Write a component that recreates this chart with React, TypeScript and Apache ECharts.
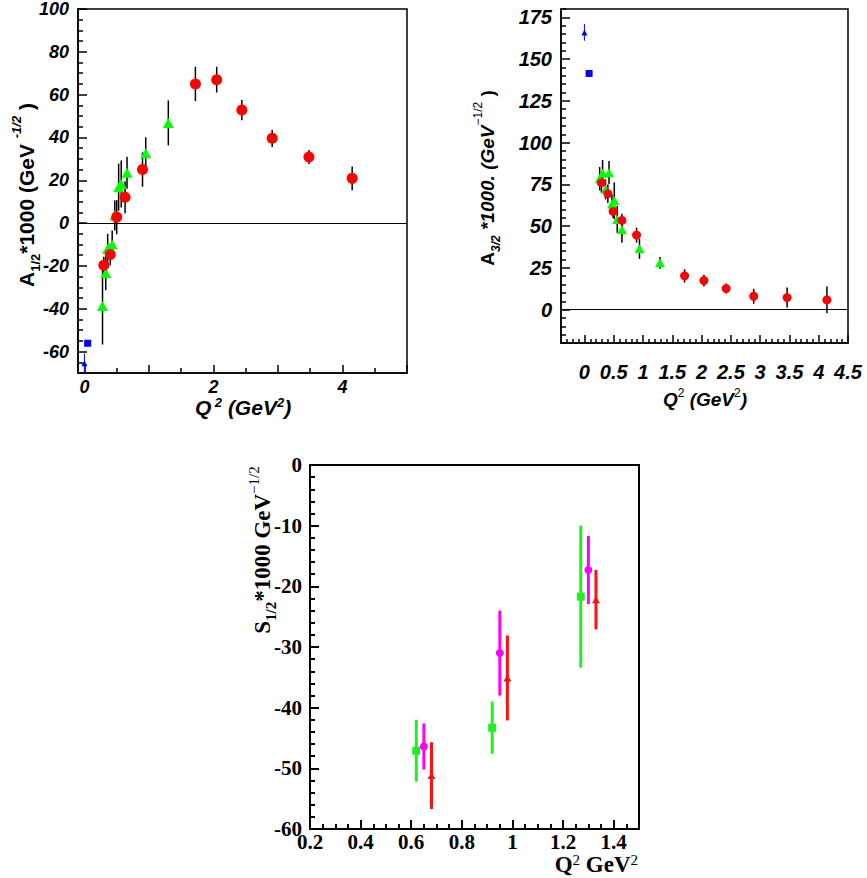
import React, { useEffect, useRef } from 'react';
import * as echarts from 'echarts';

// ---- A_1/2 panel: [Q2, value, error] ----
const a12Red: number[][] = [
  [0.30, -19.7, 4], [0.40, -14.7, 5], [0.50, 2.8, 8], [0.63, 12.1, 7.5], [0.90, 25, 8],
  [1.72, 65, 8], [2.05, 67, 6], [2.44, 52.8, 4.7], [2.91, 39.6, 4], [3.48, 30.9, 3.3], [4.15, 20.9, 5.5],
];
const a12Green: number[][] = [
  [0.28, -38.7, 18], [0.33, -23.3, 8], [0.36, -12, 7], [0.43, -10, 6.5], [0.47, 3.6, 7],
  [0.53, 16.8, 11], [0.57, 18.3, 11], [0.66, 23.5, 7.5], [0.95, 32.6, 7.5], [1.30, 46.8, 10.5],
];
const a12BlueTri: number[][] = [[0, -65.4, 4.5]];
const a12BlueSq: number[][] = [[0.05, -56.1]];

// ---- A_3/2 panel ----
const a32Red: number[][] = [
  [0.29, 76, 6], [0.40, 69.4, 5.5], [0.49, 58.8, 4], [0.64, 53.4, 4], [0.89, 44.6, 4.5],
  [1.71, 20.2, 4], [2.04, 17.4, 3.5], [2.42, 12.6, 3], [2.89, 8, 4.5], [3.46, 7.2, 6], [4.14, 5.8, 8],
];
const a32Green: number[][] = [
  [0.26, 78.4, 7], [0.31, 81.6, 8], [0.36, 72, 6], [0.42, 82, 7], [0.47, 63.2, 6],
  [0.51, 65.2, 11], [0.56, 54, 8], [0.64, 48, 8], [0.94, 36.4, 6], [1.29, 28, 3.5],
];
const a32BlueTri: number[][] = [[0, 166, 5]];
const a32BlueSq: number[][] = [[0.08, 141.4]];

// ---- S_1/2 panel ----
const s12Green: number[][] = [[0.62, -47.1, 5.1], [0.92, -43.3, 4.3], [1.27, -21.7, 11.7]];
const s12Magenta: number[][] = [[0.65, -46.4, 3.8], [0.95, -31, 7], [1.30, -17.3, 5.6]];
const s12Red: number[][] = [[0.68, -51.2, 5.5], [0.98, -35.1, 7], [1.33, -22.2, 4.9]];

// tick label positions
const a12XLabels = [0, 2, 4];
const a12YLabels = [-60, -40, -20, 0, 20, 40, 60, 80, 100];
const a32XLabels = [0, 0.5, 1, 1.5, 2, 2.5, 3, 3.5, 4, 4.5];
const a32YLabels = [0, 25, 50, 75, 100, 125, 150, 175];
const s12XLabels = [0.2, 0.4, 0.6, 0.8, 1, 1.2, 1.4];
const s12YLabels = [-60, -50, -40, -30, -20, -10, 0];

const steps = (from: number, to: number, step: number, skip: number[] = []) => {
  const out: number[] = [];
  const n = Math.round((to - from) / step);
  for (let i = 0; i <= n; i++) {
    const v = Math.round((from + i * step) * 1000) / 1000;
    if (!skip.some((s) => Math.abs(s - v) < 1e-6)) out.push(v);
  }
  return out;
};

const sansBI = { fontFamily: 'Liberation Sans', fontWeight: 'bold', fontStyle: 'italic', color: '#000' } as any;
const serifB = { fontFamily: 'Liberation Serif', fontWeight: 'bold', color: '#000' } as any;

function axisPair(
  dim: 'x' | 'y', gridIndex: number, min: number, max: number,
  major: number[], minor: number[], labels: number[], labelStyle: any,
  width: number, majorLen: number, minorLen: number, margin: number,
) {
  const position = dim === 'x' ? 'bottom' : 'left';
  const lineStyle = { color: '#000', width };
  return [
    {
      type: 'value', gridIndex, min, max, position,
      axisLine: { show: true, onZero: false, lineStyle },
      axisTick: { show: true, inside: true, length: majorLen, customValues: major, lineStyle },
      axisLabel: { show: true, customValues: labels, margin, ...labelStyle },
      splitLine: { show: false },
    },
    {
      type: 'value', gridIndex, min, max, position,
      axisLine: { show: false, onZero: false },
      axisTick: { show: true, inside: true, length: minorLen, customValues: minor, lineStyle },
      axisLabel: { show: false },
      splitLine: { show: false },
    },
  ];
}

function errorBars(data: number[][], axis: number, color: string, width: number) {
  return {
    type: 'custom',
    xAxisIndex: axis, yAxisIndex: axis,
    data: data.map((d) => [d[0], d[1] - d[2], d[1] + d[2]]),
    encode: { x: 0, y: [1, 2] },
    silent: true,
    z: 2,
    renderItem: (_p: any, api: any) => {
      const lo = api.coord([api.value(0), api.value(1)]);
      const hi = api.coord([api.value(0), api.value(2)]);
      return {
        type: 'line',
        shape: { x1: lo[0], y1: lo[1], x2: hi[0], y2: hi[1] },
        style: { stroke: color, lineWidth: width },
      };
    },
  };
}

function markers(data: number[][], axis: number, symbol: string, size: any, color: string) {
  return {
    type: 'scatter',
    xAxisIndex: axis, yAxisIndex: axis,
    data: data.map((d) => [d[0], d[1]]),
    symbol, symbolSize: size,
    itemStyle: { color, opacity: 1 },
    z: 3,
    silent: true,
  };
}

const zeroLine = {
  markLine: {
    silent: true, symbol: 'none', label: { show: false },
    lineStyle: { color: '#000', width: 1, type: 'solid' },
    data: [{ yAxis: 0 }],
  },
};

export default function App() {
  const ref = useRef<HTMLDivElement>(null);

  useEffect(() => {
    document.body.style.margin = '0';
    const chart = echarts.init(ref.current!, null, { renderer: 'svg' });

    const [x0, x0m] = axisPair('x', 0, -0.1, 5, [0, 1, 2, 3, 4, 5], [0.5, 1.5, 2.5, 3.5, 4.5], a12XLabels,
      { ...sansBI, fontSize: 18 }, 1.5, 8, 5, 5);
    const [y0, y0m] = axisPair('y', 0, -70, 100, a12YLabels, steps(-70, 100, 5, a12YLabels), a12YLabels,
      { ...sansBI, fontSize: 18 }, 1.5, 9, 5, 9);
    const [x1, x1m] = axisPair('x', 1, -0.4, 4.5, a32XLabels, steps(-0.4, 4.5, 0.1, a32XLabels), a32XLabels,
      { ...sansBI, fontSize: 20 }, 1.5, 8, 4, 19);
    const [y1, y1m] = axisPair('y', 1, -20, 180, a32YLabels, steps(-20, 180, 5, a32YLabels), a32YLabels,
      { ...sansBI, fontSize: 20 }, 1.5, 9, 5, 9);
    const [x2, x2m] = axisPair('x', 2, 0.2, 1.5, s12XLabels, steps(0.2, 1.5, 0.05, s12XLabels), s12XLabels,
      { ...serifB, fontSize: 21 }, 2, 9, 5, 2);
    const [y2, y2m] = axisPair('y', 2, -60, 0, s12YLabels, steps(-60, 0, 2, s12YLabels), s12YLabels,
      { ...serifB, fontSize: 21 }, 2, 9, 5, 8);

    const sansTitle = (size: number) => ({ fontFamily: 'Liberation Sans', fontWeight: 'bold', fontSize: size, fill: '#000' });

    chart.setOption({
      animation: false,
      backgroundColor: '#fff',
      grid: [
        { left: 78, top: 9, width: 329, height: 364, show: true, borderColor: '#000', borderWidth: 1.5, containLabel: false },
        { left: 561, top: 9, width: 287, height: 334, show: true, borderColor: '#000', borderWidth: 1.5, containLabel: false },
        { left: 310, top: 465, width: 329, height: 364, show: true, borderColor: '#000', borderWidth: 2, containLabel: false },
      ],
      xAxis: [x0, x0m, x1, x1m, x2, x2m].map((a, i) => ({ ...a, gridIndex: Math.floor(i / 2) })),
      yAxis: [y0, y0m, y1, y1m, y2, y2m].map((a, i) => ({ ...a, gridIndex: Math.floor(i / 2) })),
      series: [
        // A_1/2
        { ...markers([], 0, 'none', 0, '#000'), ...zeroLine },
        errorBars(a12Green, 0, '#000', 1.5),
        errorBars(a12Red, 0, '#000', 1.5),
        errorBars(a12BlueTri, 0, '#0000ff', 1),
        markers(a12Green, 0, 'triangle', [11, 10], '#00ff00'),
        markers(a12Red, 0, 'circle', 11, '#ff0000'),
        markers(a12BlueTri, 0, 'triangle', [6, 6], '#0000ff'),
        markers(a12BlueSq, 0, 'rect', 7, '#0000ff'),
        // A_3/2
        { ...markers([], 2, 'none', 0, '#000'), ...zeroLine },
        errorBars(a32Green, 2, '#000', 1.5),
        errorBars(a32Red, 2, '#000', 1.5),
        errorBars(a32BlueTri, 2, '#0000ff', 1),
        markers(a32Green, 2, 'triangle', [10, 9], '#00ff00'),
        markers(a32Red, 2, 'circle', 9, '#ff0000'),
        markers(a32BlueTri, 2, 'triangle', [6, 6], '#0000ff'),
        markers(a32BlueSq, 2, 'rect', 7, '#0000ff'),
        // S_1/2
        errorBars(s12Green, 4, '#22ee22', 3),
        errorBars(s12Magenta, 4, '#ff00ff', 3),
        errorBars(s12Red, 4, '#ff1111', 3),
        markers(s12Green, 4, 'rect', 8, '#22ee22'),
        markers(s12Magenta, 4, 'circle', 8, '#ff00ff'),
        markers(s12Red, 4, 'triangle', [8, 7], '#ff1111'),
      ],
      graphic: [
        {
          type: 'text', x: 26, y: 195, rotation: Math.PI / 2,
          style: {
            text: '{b|A}{s|1/2}{b|*1000 (GeV }{p|-1/2}{b| )}',
            align: 'center', verticalAlign: 'middle', textAlign: 'center', textVerticalAlign: 'middle',
            rich: {
              b: { ...sansTitle(21), lineHeight: 32, verticalAlign: 'middle' },
              s: { ...sansTitle(13), lineHeight: 32, verticalAlign: 'bottom' },
              p: { ...sansTitle(13), fontStyle: 'italic', lineHeight: 32, verticalAlign: 'top' },
            },
          },
        },
        {
          type: 'text', x: 243, y: 407,
          style: {
            text: '{b|Q}{p| 2}{b| (GeV}{p|2}{b|)}',
            align: 'center', verticalAlign: 'middle', textAlign: 'center', textVerticalAlign: 'middle',
            rich: {
              b: { ...sansTitle(21), fontStyle: 'italic', lineHeight: 22, verticalAlign: 'middle' },
              p: { ...sansTitle(13), fontStyle: 'italic', lineHeight: 22, verticalAlign: 'top' },
            },
          },
        },
        {
          type: 'text', x: 487, y: 178, rotation: Math.PI / 2,
          style: {
            text: '{b|A}{s|3/2}{i| *1000. (GeV}{p|−1/2}{b| )}',
            align: 'center', verticalAlign: 'middle', textAlign: 'center', textVerticalAlign: 'middle',
            rich: {
              b: { ...sansTitle(19), lineHeight: 30, verticalAlign: 'middle' },
              i: { ...sansTitle(19), fontStyle: 'italic', lineHeight: 30, verticalAlign: 'middle' },
              s: { ...sansTitle(12), fontStyle: 'italic', lineHeight: 30, verticalAlign: 'bottom' },
              p: { fontFamily: 'Liberation Sans', fontSize: 12, fill: '#000', lineHeight: 30, verticalAlign: 'top' },
            },
          },
        },
        {
          type: 'text', x: 705, y: 399,
          style: {
            text: '{b|Q}{p|2}{b| (GeV}{p|2}{b|)}',
            align: 'center', verticalAlign: 'middle', textAlign: 'center', textVerticalAlign: 'middle',
            rich: {
              b: { ...sansTitle(19), fontStyle: 'italic', lineHeight: 24, verticalAlign: 'middle' },
              p: { fontFamily: 'Liberation Sans', fontSize: 12, fill: '#000', lineHeight: 24, verticalAlign: 'top' },
            },
          },
        },
        {
          type: 'text', x: 262, y: 550, rotation: Math.PI / 2,
          style: {
            text: '{b|S}{s|1/2}{b|*1000 GeV}{p|−1/2}',
            align: 'center', verticalAlign: 'middle', textAlign: 'center', textVerticalAlign: 'middle',
            rich: {
              b: { fontFamily: 'Liberation Serif', fontWeight: 'bold', fontSize: 23, fill: '#000', lineHeight: 32, verticalAlign: 'middle' },
              s: { fontFamily: 'Liberation Serif', fontWeight: 'bold', fontSize: 15, fill: '#000', lineHeight: 32, verticalAlign: 'bottom' },
              p: { fontFamily: 'Liberation Serif', fontSize: 15, fill: '#000', lineHeight: 32, verticalAlign: 'top' },
            },
          },
        },
        {
          type: 'text', x: 638, y: 864,
          style: {
            text: '{b|Q}{p|2}{b| GeV}{p|2}',
            align: 'right', verticalAlign: 'middle', textAlign: 'right', textVerticalAlign: 'middle',
            rich: {
              b: { fontFamily: 'Liberation Serif', fontWeight: 'bold', fontSize: 23, fill: '#000', lineHeight: 24, verticalAlign: 'middle' },
              p: { fontFamily: 'Liberation Serif', fontSize: 15, fill: '#000', lineHeight: 24, verticalAlign: 'top' },
            },
          },
        },
      ],
    });

    return () => chart.dispose();
  }, []);

  return <div ref={ref} style={{ width: 867, height: 878 }} />;
}
